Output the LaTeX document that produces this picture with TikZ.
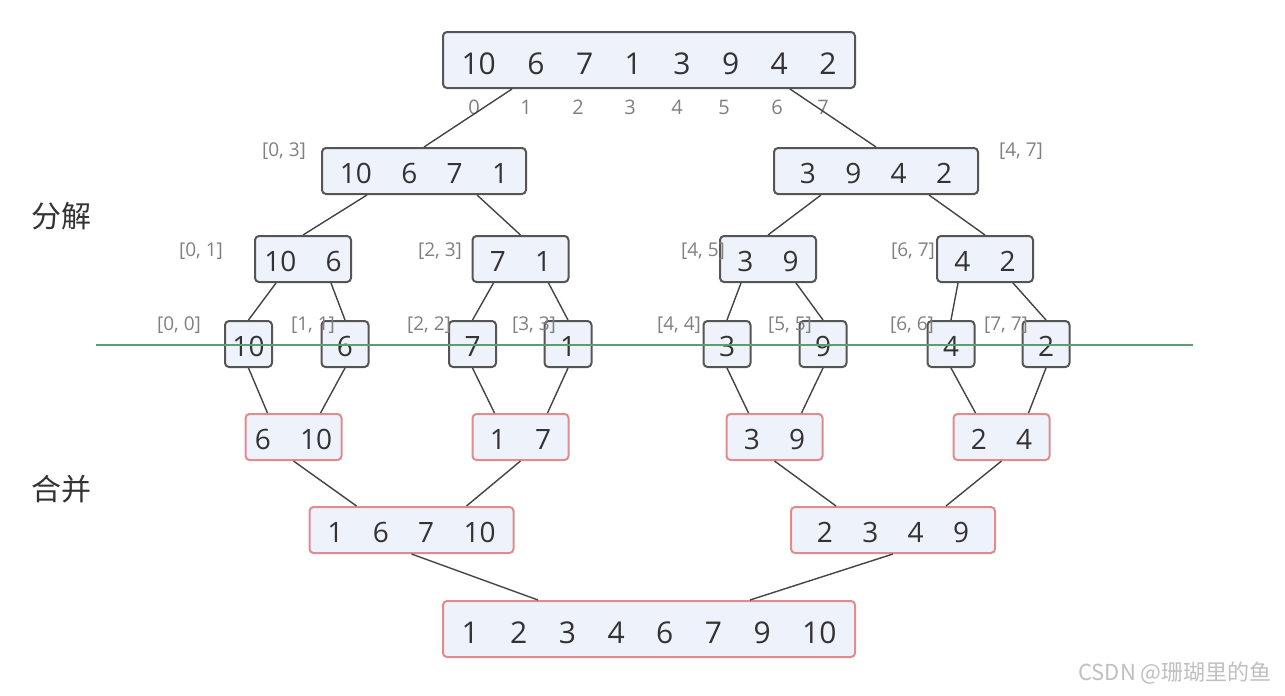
\documentclass[tikz,border=0pt]{standalone}
\usepackage{fontspec}
\setmainfont{Open Sans}
\newfontfamily\cjk{Noto Sans CJK SC}
\usepackage{tikz}
\usetikzlibrary{calc}
\definecolor{boxfill}{HTML}{EEF2FB}
\definecolor{boxline}{HTML}{555555}
\definecolor{mrgline}{HTML}{E08C8C}
\definecolor{linkink}{HTML}{444444}
\definecolor{rnggray}{HTML}{808080}
\definecolor{cutgreen}{HTML}{5E9E6E}
\newcommand{\numgap}{\hspace{1.05em}}

\begin{document}
\begin{tikzpicture}[
  x=0.5pt,y=-0.5pt,
  box/.style={fill=boxfill,rounded corners=2pt,inner sep=0pt,line width=1pt,
              text=black!80,text depth=0pt},
  cut/.style={box,draw=boxline},
  mrg/.style={box,draw=mrgline},
  w8/.style={minimum width=206pt,minimum height=28pt,text height=14pt,
             font=\fontsize{15}{18}\selectfont},
  w4/.style={minimum width=102pt,minimum height=23pt,text height=12.2pt,
             font=\fontsize{14}{17}\selectfont},
  w2/.style={minimum width=48pt,minimum height=23pt,text height=12.2pt,
             font=\fontsize{14}{17}\selectfont},
  w1/.style={minimum width=23.5pt,minimum height=23pt,text height=12.2pt,
             font=\fontsize{14}{17}\selectfont},
  rng/.style={text=rnggray,inner sep=0pt,font=\fontsize{9.5}{11}\selectfont},
  idx/.style={text=rnggray,inner sep=0pt,font=\fontsize{10}{12}\selectfont},
  side/.style={text=black!80,inner sep=0pt,font=\cjk\fontsize{15}{18}\selectfont},
  wmark/.style={text=black!25,inner sep=0pt,font=\cjk\fontsize{11}{13}\selectfont},
  ln/.style={linkink,line width=0.7pt}
]
\fill[white] (0,0) rectangle (1285,696);
\useasboundingbox (0,0) rectangle (1285,696);

% split half
\node[cut,w8] (top) at (649,60)
  {10\numgap 6\numgap 7\numgap 1\numgap 3\numgap 9\numgap 4\numgap 2};
\foreach \i/\x in {0/474,1/526,2/578,3/630,4/677,5/724,6/777,7/823}
  \node[idx] (i\i) at (\x,107) {\i};

\node[cut,w4] (l1a) at (424,171) {10\numgap 6\numgap 7\numgap 1};
\node[cut,w4] (l1b) at (876,171) {3\numgap 9\numgap 4\numgap 2};

\node[cut,w2] (l2a) at (303,259) {10\numgap 6};
\node[cut,w2] (l2b) at (520.5,259) {7\numgap 1};
\node[cut,w2] (l2c) at (768,259) {3\numgap 9};
\node[cut,w2] (l2d) at (985,259) {4\numgap 2};

\foreach \i/\x/\v in {0/248.5/10,1/345/6,2/472.5/7,3/568/1,4/727/3,5/823/9,6/951/4,7/1046/2}
  \node[cut,w1] (s\i) at (\x,344) {\v};

% index ranges
\foreach \n/\x/\y/\t in {r03/284/151/{[0, 3]},r47/1021/151/{[4, 7]},
    r01/201/251/{[0, 1]},r23/440/251/{[2, 3]},r45/703/251/{[4, 5]},r67/913/251/{[6, 7]},
    r00/179/325/{[0, 0]},r11/313/325/{[1, 1]},r22/429/325/{[2, 2]},r33/534/325/{[3, 3]},
    r44/679/325/{[4, 4]},r55/790/325/{[5, 5]},r66/912/325/{[6, 6]},r77/1006/325/{[7, 7]}}
  \node[rng] (\n) at (\x,\y) {\t};

% merge half
\node[mrg,w2] (p0) at (293.5,437) {6\numgap 10};
\node[mrg,w2] (p1) at (520.5,437) {1\numgap 7};
\node[mrg,w2] (p2) at (774.5,437) {3\numgap 9};
\node[mrg,w2] (p3) at (1001.5,437) {2\numgap 4};

\node[mrg,w4] (q0) at (411.5,530) {1\numgap 6\numgap 7\numgap 10};
\node[mrg,w4] (q1) at (893,530) {2\numgap 3\numgap 4\numgap 9};

\node[mrg,w8] (fin) at (649,629)
  {1\numgap 2\numgap 3\numgap 4\numgap 6\numgap 7\numgap 9\numgap 10};

\node[side] (split) at (62,216) {分解};
\node[side] (merge) at (62,489) {合并};
\node[wmark] (csdn) at (1175,673) {CSDN @珊瑚里的鱼};

% links
\draw[ln] ($(top.south)+(-137,0)$) -- (l1a.north);
\draw[ln] ($(top.south)+(141,0)$) -- (l1b.north);
\draw[ln] ($(l1a.south)+(-57,0)$) -- (l2a.north);
\draw[ln] ($(l1a.south)+(53,0)$) -- (l2b.north);
\draw[ln] ($(l1b.south)+(-55,0)$) -- (l2c.north);
\draw[ln] ($(l1b.south)+(53,0)$) -- (l2d.north);
\foreach \p/\a/\b in {l2a/s0/s1,l2b/s2/s3,l2c/s4/s5,l2d/s6/s7} {
  \draw[ln] ($(\p.south)+(-27,0)$) -- (\a.north);
  \draw[ln] ($(\p.south)+(28,0)$) -- (\b.north);
}
\foreach \p/\a/\b in {p0/s0/s1,p1/s2/s3,p2/s4/s5,p3/s6/s7} {
  \draw[ln] (\a.south) -- ($(\p.north)+(-26,0)$);
  \draw[ln] (\b.south) -- ($(\p.north)+(27,0)$);
}
\draw[ln] (p0.south) -- ($(q0.north)+(-55,0)$);
\draw[ln] (p1.south) -- ($(q0.north)+(55,0)$);
\draw[ln] (p2.south) -- ($(q1.north)+(-57,0)$);
\draw[ln] (p3.south) -- ($(q1.north)+(53,0)$);
\draw[ln] (q0.south) -- ($(fin.north)+(-111,0)$);
\draw[ln] (q1.south) -- ($(fin.north)+(101,0)$);

% cut line
\coordinate (gl) at (96,345);
\coordinate (gr) at (1193,345);
\draw[cutgreen,line width=0.6pt] (gl) -- (gr);
\end{tikzpicture}
\end{document}
